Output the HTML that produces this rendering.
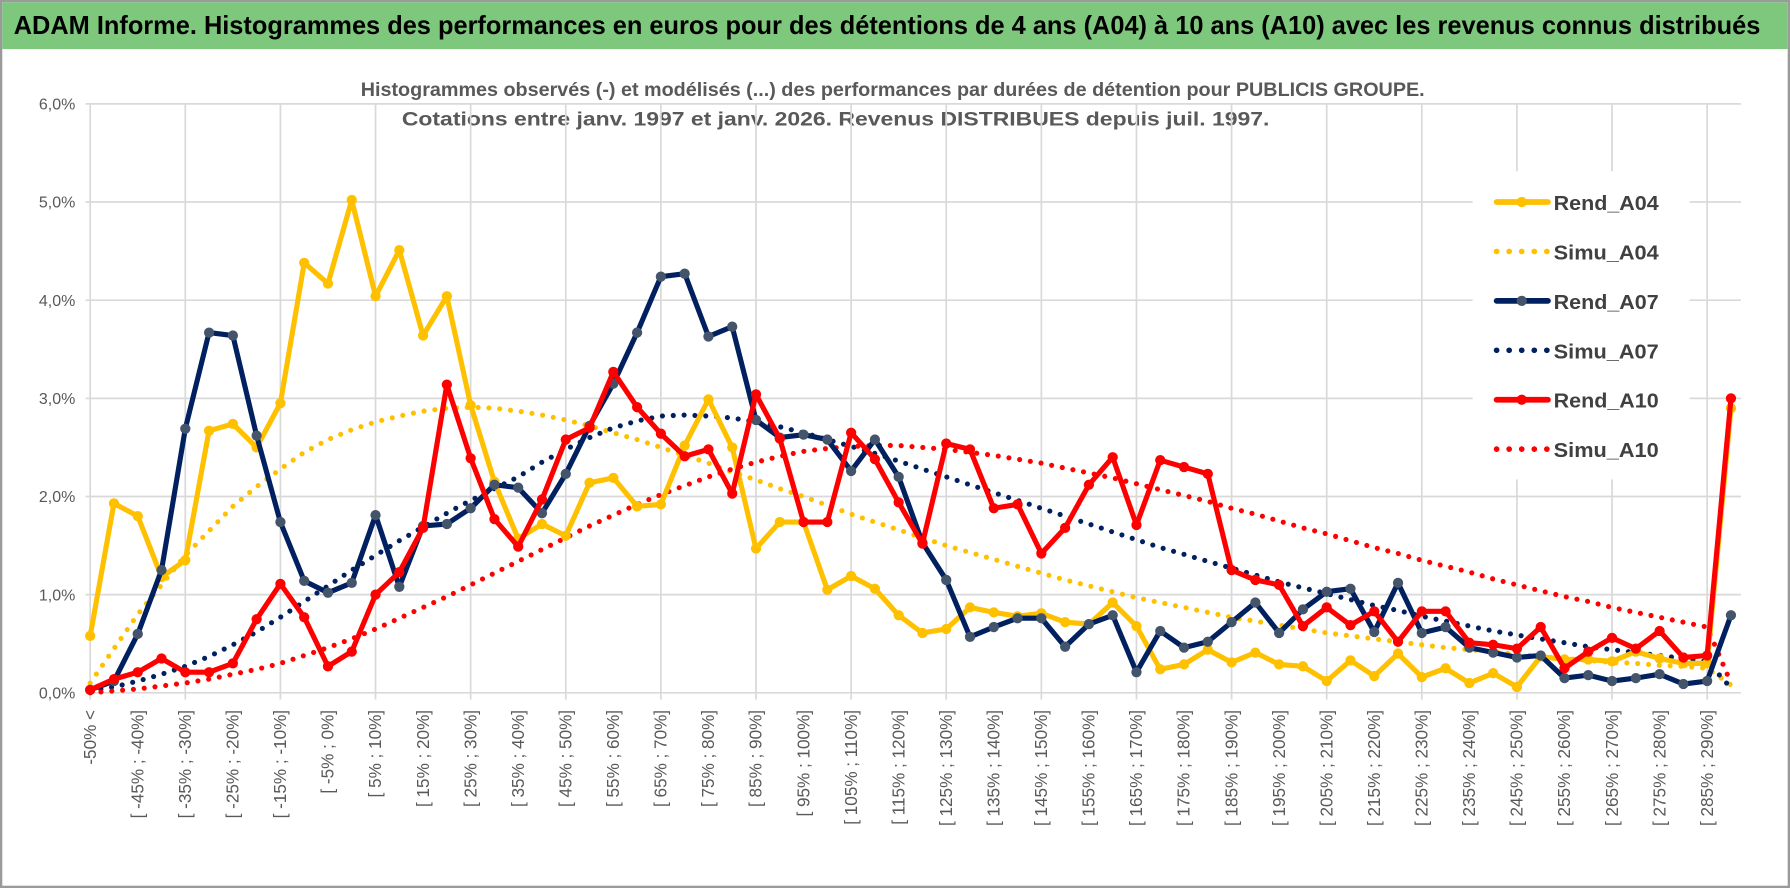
<!DOCTYPE html>
<html><head><meta charset="utf-8"><style>
html,body{margin:0;padding:0;background:#fff;}
svg{display:block;font-family:"Liberation Sans",sans-serif;}
</style></head><body>
<svg id="chart" width="1790" height="888" viewBox="0 0 1568 778" preserveAspectRatio="none">
<rect x="0" y="0" width="1568" height="778" fill="#fff"/>
<rect x="1" y="1" width="1566" height="776" fill="none" stroke="#9a9a9a" stroke-width="2"/>
<rect x="2" y="2" width="1564" height="41" fill="#7dc87c"/>
<text x="12" y="30" font-size="23" font-weight="bold" fill="#000" textLength="1530" lengthAdjust="spacingAndGlyphs">ADAM Informe. Histogrammes des performances en euros pour des détentions de 4 ans (A04) à 10 ans (A10) avec les revenus connus distribués</text>
<text x="782" y="84" font-size="17" font-weight="bold" fill="#595959" text-anchor="middle" textLength="932" lengthAdjust="spacingAndGlyphs">Histogrammes observés (-) et modélisés (...) des performances par durées de détention pour PUBLICIS GROUPE.</text>
<text x="732" y="110" font-size="17" font-weight="bold" fill="#595959" text-anchor="middle" textLength="760" lengthAdjust="spacingAndGlyphs">Cotations entre janv. 1997 et janv. 2026. Revenus DISTRIBUES depuis juil. 1997.</text>
<g id="grid"></g>
<g id="ylabels"></g>
<g id="xlabels"></g>
<g id="series"></g>
<g id="legend"></g>
</svg>
<script>
const categories = [];
for (let i = 0; i < 70; i++) {
  if (i === 0) categories.push('-50% <');
  else { const a = -50 + 5 * (i - 1); categories.push('[ ' + a + '% ; ' + (a + 5) + '%]'); }
}
const yTicks = [0, 1, 2, 3, 4, 5, 6];
const yTickLabels = ['0,0%', '1,0%', '2,0%', '3,0%', '4,0%', '5,0%', '6,0%'];
const rendA04 = [0.58,1.93,1.80,1.18,1.35,2.67,2.74,2.50,2.95,4.38,4.17,5.02,4.04,4.51,3.64,4.04,2.93,2.15,1.57,1.72,1.60,2.14,2.19,1.90,1.92,2.52,2.99,2.50,1.47,1.74,1.74,1.05,1.19,1.06,0.79,0.61,0.65,0.87,0.82,0.78,0.81,0.72,0.70,0.92,0.68,0.24,0.29,0.44,0.31,0.41,0.29,0.27,0.12,0.33,0.17,0.40,0.16,0.25,0.10,0.20,0.06,0.37,0.34,0.34,0.32,0.42,0.35,0.30,0.30,2.90];
const simuA04 = [0.10,0.45,0.80,1.10,1.40,1.65,1.90,2.10,2.28,2.45,2.58,2.68,2.76,2.82,2.87,2.90,2.91,2.90,2.87,2.83,2.78,2.72,2.65,2.58,2.50,2.42,2.34,2.25,2.17,2.08,2.00,1.91,1.82,1.74,1.66,1.58,1.50,1.43,1.36,1.29,1.22,1.15,1.09,1.03,0.97,0.92,0.87,0.82,0.77,0.73,0.69,0.65,0.61,0.58,0.55,0.52,0.49,0.46,0.44,0.42,0.39,0.37,0.35,0.33,0.31,0.30,0.28,0.27,0.25,0.08];
const rendA07 = [0.03,0.12,0.60,1.25,2.69,3.67,3.64,2.62,1.74,1.14,1.02,1.12,1.81,1.08,1.70,1.72,1.88,2.12,2.09,1.83,2.23,2.72,3.15,3.67,4.24,4.27,3.63,3.73,2.78,2.60,2.63,2.58,2.26,2.58,2.20,1.53,1.15,0.57,0.67,0.76,0.76,0.47,0.70,0.79,0.21,0.63,0.46,0.52,0.72,0.92,0.61,0.85,1.03,1.06,0.62,1.12,0.61,0.67,0.46,0.41,0.36,0.38,0.15,0.18,0.12,0.15,0.19,0.09,0.12,0.79];
const simuA07 = [0.02,0.06,0.12,0.19,0.27,0.37,0.49,0.62,0.77,0.93,1.09,1.25,1.40,1.55,1.69,1.83,1.96,2.08,2.20,2.35,2.48,2.60,2.70,2.77,2.82,2.83,2.82,2.80,2.76,2.71,2.65,2.58,2.51,2.44,2.36,2.28,2.20,2.12,2.04,1.96,1.88,1.80,1.72,1.64,1.56,1.48,1.41,1.34,1.27,1.20,1.13,1.07,1.01,0.95,0.89,0.84,0.78,0.73,0.68,0.63,0.59,0.55,0.51,0.47,0.44,0.41,0.38,0.35,0.32,0.05];
const rendA10 = [0.03,0.14,0.21,0.35,0.21,0.21,0.30,0.75,1.11,0.77,0.27,0.42,1.00,1.23,1.68,3.14,2.39,1.77,1.49,1.97,2.58,2.70,3.27,2.91,2.64,2.41,2.48,2.03,3.04,2.59,1.74,1.74,2.65,2.38,1.94,1.52,2.54,2.48,1.88,1.92,1.42,1.68,2.12,2.40,1.71,2.37,2.30,2.23,1.25,1.15,1.10,0.68,0.87,0.69,0.83,0.52,0.83,0.83,0.51,0.49,0.45,0.67,0.25,0.42,0.56,0.45,0.63,0.36,0.38,3.00];
const simuA10 = [0.00,0.02,0.04,0.07,0.10,0.14,0.19,0.24,0.30,0.38,0.46,0.55,0.65,0.76,0.87,0.98,1.10,1.22,1.34,1.46,1.58,1.70,1.81,1.92,2.02,2.11,2.20,2.28,2.35,2.41,2.46,2.49,2.51,2.52,2.52,2.50,2.48,2.45,2.42,2.38,2.34,2.29,2.24,2.19,2.13,2.07,2.01,1.95,1.88,1.82,1.75,1.68,1.62,1.55,1.48,1.42,1.35,1.29,1.23,1.16,1.10,1.04,0.98,0.93,0.87,0.82,0.77,0.72,0.67,0.10];
const seriesNames = ['Rend_A04','Simu_A04','Rend_A07','Simu_A07','Rend_A10','Simu_A10'];

const NS = 'http://www.w3.org/2000/svg';
const X0 = 79, DX = 20.83, Y0 = 607, DY = 86;
function xScale(i){ return X0 + i * DX; }
function yScale(v){ return Y0 - v * DY; }
function mk(tag, attrs, parent){ const e = document.createElementNS(NS, tag); for (const k in attrs) e.setAttribute(k, attrs[k]); parent.appendChild(e); return e; }

const grid = document.getElementById('grid');
yTicks.forEach((t) => {
  const l = mk('line', {x1: 75, x2: 1525, y1: yScale(t), y2: yScale(t), stroke: '#d9d9d9', 'stroke-width': 1.5}, grid);
  
  
});
for (let i = 0; i < categories.length; i += 4) {
  const l = mk('line', {x1: xScale(i), x2: xScale(i), y1: yScale(6), y2: Y0 + 6, stroke: '#d9d9d9', 'stroke-width': 1.5}, grid);
  
  
}
const yl = document.getElementById('ylabels');
yTicks.forEach((t, k) => {
  const tx = mk('text', {x: 66, y: yScale(t) + 5, 'font-size': 14, fill: '#595959', 'text-anchor': 'end'}, yl);
  tx.textContent = yTickLabels[k];
  
  
});
const xl = document.getElementById('xlabels');
categories.forEach((c, i) => {
  if (i % 2) return;
  const x = xScale(i) + 5, y = 622;
  const tx = mk('text', {x: x, y: y, 'font-size': 15, fill: '#595959', 'text-anchor': 'end', transform: 'rotate(-90 ' + x + ' ' + y + ')'}, xl);
  tx.textContent = c;
  
  
});

const sg = document.getElementById('series');
function pts(arr){ return arr.map((v, i) => xScale(i).toFixed(1) + ',' + yScale(v).toFixed(1)).join(' '); }
function drawSim(arr, color, name){
  const p = mk('polyline', {points: pts(arr), fill: 'none', stroke: color, 'stroke-width': 4.5, 'stroke-linecap': 'round', 'stroke-dasharray': '0 9.5'}, sg);
  
  
}
function drawRend(arr, color, mcolor, name){
  const g = mk('g', {}, sg);
  
  
  mk('polyline', {points: pts(arr), fill: 'none', stroke: color, 'stroke-width': 4.5, 'stroke-linejoin': 'round'}, g);
  arr.forEach((v, i) => {
    const c = mk('circle', {cx: xScale(i), cy: yScale(v), r: 4.5, fill: mcolor}, g);
    
    
  });
}
drawSim(simuA04, '#FFC000', 'simu-a04-line');
drawSim(simuA07, '#002060', 'simu-a07-line');
drawSim(simuA10, '#FF0000', 'simu-a10-line');
drawRend(rendA04, '#FFC000', '#FFC000', 'rend-a04-line');
drawRend(rendA07, '#002060', '#44546a', 'rend-a07-line');
drawRend(rendA10, '#FF0000', '#FF0000', 'rend-a10-line');

const lg = document.getElementById('legend');
const lbg = mk('rect', {x: 1290, y: 150, width: 190, height: 270, fill: '#fff'}, lg);


const lcolors = ['#FFC000','#FFC000','#002060','#002060','#FF0000','#FF0000'];
const mcolors = ['#FFC000','#FFC000','#44546a','#002060','#FF0000','#FF0000'];
seriesNames.forEach((n, k) => {
  const y = 177 + k * 43.3;
  const g = mk('g', {}, lg);
  
  
  if (k % 2 === 0) {
    mk('line', {x1: 1311, x2: 1356, y1: y, y2: y, stroke: lcolors[k], 'stroke-width': 5, 'stroke-linecap': 'round'}, g);
    mk('circle', {cx: 1333, cy: y, r: 4.5, fill: mcolors[k]}, g);
  } else {
    mk('line', {x1: 1311, x2: 1356, y1: y, y2: y, stroke: lcolors[k], 'stroke-width': 5, 'stroke-linecap': 'round', 'stroke-dasharray': '0 11'}, g);
  }
  const t = mk('text', {x: 1361, y: y + 7, 'font-size': 18, 'font-weight': 'bold', fill: '#404040', textLength: 92, lengthAdjust: 'spacingAndGlyphs'}, g);
  t.textContent = n;
});
</script>
</body></html>
